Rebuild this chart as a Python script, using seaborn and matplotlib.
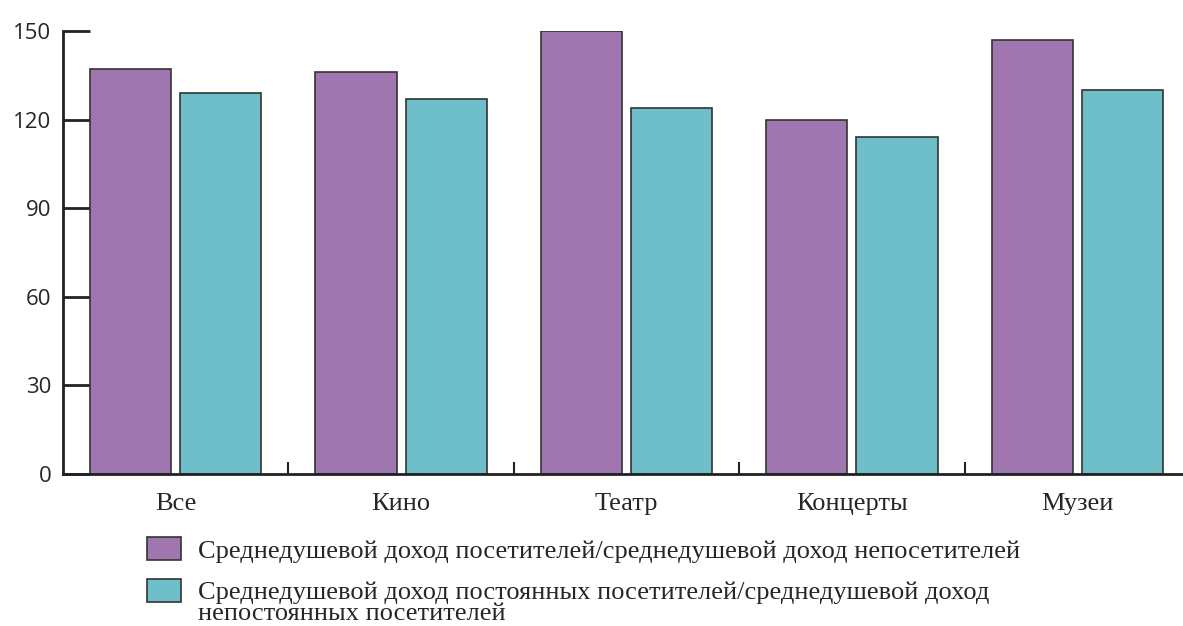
import pandas as pd
import matplotlib.pyplot as plt
import seaborn as sns
from matplotlib.patches import Patch, Rectangle
from matplotlib.legend_handler import HandlerPatch
from matplotlib.ticker import FixedLocator

categories = ['Все', 'Кино', 'Театр', 'Концерты', 'Музеи']
visitors_ratio = [137, 136, 150, 120, 147]
regular_ratio = [129, 127, 124, 114, 130]
series_names = [
    'Среднедушевой доход посетителей/среднедушевой доход непосетителей',
    'Среднедушевой доход постоянных посетителей/среднедушевой доход\nнепостоянных посетителей',
]
colors = ['#A076B0', '#6EBFCA']

df = pd.DataFrame({
    'category': categories * 2,
    'value': visitors_ratio + regular_ratio,
    'series': [series_names[0]] * len(categories) + [series_names[1]] * len(categories),
})

sns.set_style('ticks')
plt.rcParams['font.family'] = ['Open Sans', 'DejaVu Sans']

fig = plt.figure(figsize=(11.83, 6.26), dpi=100)
ax = fig.add_axes([63 / 1183, 1 - 474 / 626, (1190 - 63) / 1183, (474 - 31) / 626])

sns.barplot(data=df, x='category', y='value', hue='series', order=categories,
            hue_order=series_names, palette=dict(zip(series_names, colors)),
            width=0.8, gap=0.1, saturation=1, edgecolor='#333333', linewidth=1.2,
            legend=False, ax=ax)

ax.set_xlim(-0.5, 4.5)
ax.set_ylim(0, 150)
ax.set_yticks([0, 30, 60, 90, 120, 150])
ax.set_xlabel('')
ax.set_ylabel('')
sns.despine(ax=ax)
for s in ['left', 'bottom']:
    ax.spines[s].set_linewidth(2)
    ax.spines[s].set_color('#222222')

ax.tick_params(axis='y', direction='in', length=19.5, width=2, color='#222222',
               labelsize=16, pad=8.5)
ax.tick_params(axis='x', which='major', length=0, pad=14)
ax.xaxis.set_minor_locator(FixedLocator([0.5, 1.5, 2.5, 3.5]))
ax.tick_params(axis='x', which='minor', direction='in', length=8.5, width=1.5, color='#222222')
for lab in ax.get_xticklabels():
    lab.set_fontfamily('Liberation Serif')
    lab.set_fontsize(19)


# second legend swatch sits next to the first line of its two-line label
def first_line_patch(legend, orig_handle, xdescent, ydescent, width, height, fontsize):
    return Rectangle((-xdescent, -ydescent + 0.44 * fontsize), width, height)


handles = [Patch(facecolor=c, edgecolor='#333333', linewidth=1.2) for c in colors]
leg = fig.legend(handles, series_names, loc='upper left', bbox_to_anchor=(147 / 1183, 1 - 537 / 626),
                 frameon=False, prop={'family': 'Liberation Serif', 'size': 19},
                 handlelength=1.3, handleheight=0.98, handletextpad=0.65, labelspacing=0.7,
                 borderaxespad=0, borderpad=0,
                 handler_map={handles[1]: HandlerPatch(patch_func=first_line_patch)})
for t in leg.get_texts():
    t.set_linespacing(0.95)

fig.savefig('out.png', dpi=100)
